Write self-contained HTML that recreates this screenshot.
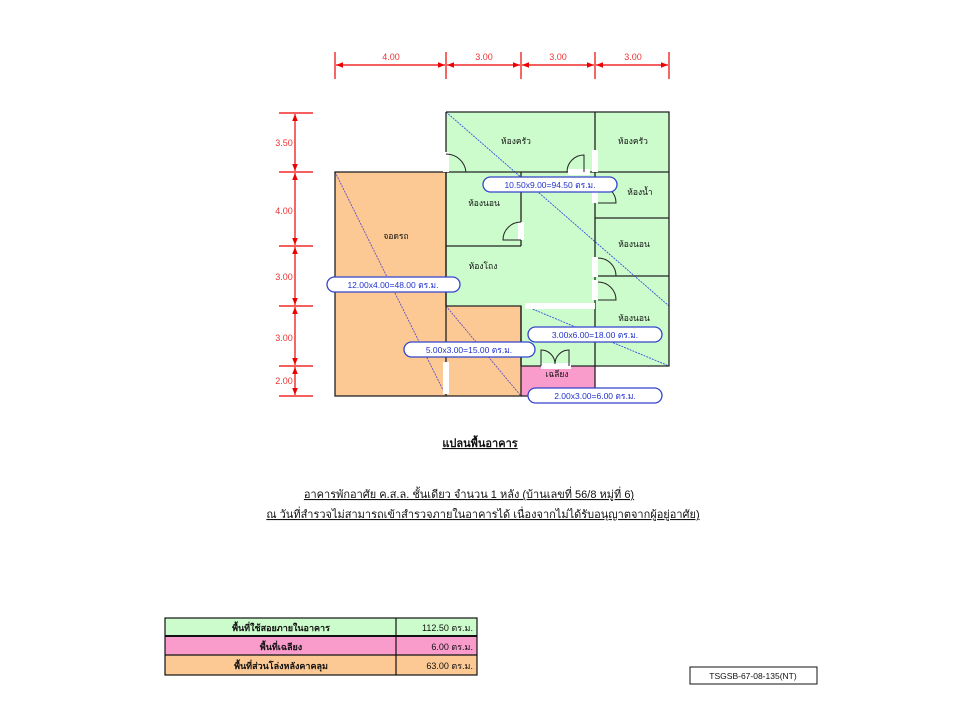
<!DOCTYPE html>
<html><head><meta charset="utf-8">
<style>
html,body{margin:0;padding:0;background:#fff;width:960px;height:720px;overflow:hidden}
svg{display:block}
text{font-family:"Liberation Sans","Noto Sans CJK SC",sans-serif}
</style></head><body>
<svg width="960" height="720" viewBox="0 0 960 720" xmlns="http://www.w3.org/2000/svg">
<defs>
<marker id="a" viewBox="0 0 10 10" refX="10" refY="5" markerWidth="6" markerHeight="6" orient="auto-start-reverse"><path d="M0,1 L10,5 L0,9z" fill="#e00"/></marker>
</defs>
<g stroke="#e00" stroke-width="1.2">
<line x1="335" y1="52" x2="335" y2="79"/><line x1="446" y1="52" x2="446" y2="79"/>
<line x1="521" y1="52" x2="521" y2="79"/><line x1="595" y1="52" x2="595" y2="79"/><line x1="669" y1="52" x2="669" y2="79"/>
<line x1="336" y1="65" x2="445" y2="65" marker-start="url(#a)" marker-end="url(#a)"/>
<line x1="447" y1="65" x2="520" y2="65" marker-start="url(#a)" marker-end="url(#a)"/>
<line x1="522" y1="65" x2="594" y2="65" marker-start="url(#a)" marker-end="url(#a)"/>
<line x1="596" y1="65" x2="668" y2="65" marker-start="url(#a)" marker-end="url(#a)"/>
<line x1="279" y1="113" x2="313" y2="113"/><line x1="279" y1="172" x2="313" y2="172"/>
<line x1="279" y1="246" x2="313" y2="246"/><line x1="279" y1="306" x2="313" y2="306"/>
<line x1="279" y1="366" x2="313" y2="366"/><line x1="279" y1="396" x2="313" y2="396"/>
<line x1="295" y1="114" x2="295" y2="171" marker-start="url(#a)" marker-end="url(#a)"/>
<line x1="295" y1="173" x2="295" y2="245" marker-start="url(#a)" marker-end="url(#a)"/>
<line x1="295" y1="247" x2="295" y2="305" marker-start="url(#a)" marker-end="url(#a)"/>
<line x1="295" y1="307" x2="295" y2="365" marker-start="url(#a)" marker-end="url(#a)"/>
<line x1="295" y1="367" x2="295" y2="395" marker-start="url(#a)" marker-end="url(#a)"/>
</g>
<g fill="#e33" font-size="9" text-anchor="middle">
<text x="391" y="60">4.00</text><text x="484" y="60">3.00</text><text x="558" y="60">3.00</text><text x="633" y="60">3.00</text>
<text x="284" y="146">3.50</text><text x="284" y="214">4.00</text><text x="284" y="280">3.00</text><text x="284" y="341">3.00</text><text x="284" y="384">2.00</text>
</g>
<path d="M446,112 H669 V366 H595 V366 H521 V306 H446z" fill="#ccfccc"/>
<rect x="335" y="172" width="111" height="224" fill="#fcc994"/>
<rect x="446" y="306" width="75" height="90" fill="#fcc994"/>
<rect x="521" y="366" width="74" height="30" fill="#f99ccc"/>
<g stroke-width="0.9" stroke-dasharray="2,1">
<line x1="446" y1="112" x2="669" y2="306" stroke="#3355dd"/>
<line x1="335" y1="172" x2="446" y2="396" stroke="#6650c0"/>
<line x1="446" y1="306" x2="521" y2="396" stroke="#6650c0"/>
<line x1="530" y1="308" x2="669" y2="366" stroke="#3355dd"/>
</g>
<g stroke="#222" stroke-width="1.3" fill="none">
<path d="M446,112 H669 V366 H595"/>
<rect x="335" y="172" width="111" height="224"/>
<path d="M446,112 V306 M446,396 H521 V306 H446"/>
<path d="M521,366 H595 V396 H521"/>
<path d="M446,172 H595 M595,172 H669 M446,246 H521 M521,172 V246 M595,218 H669 M595,276 H669 M595,112 V366 M521,306 V366"/>
</g>
<g fill="#fff">
<rect x="443" y="152" width="6" height="20"/>
<rect x="592" y="150" width="6" height="22"/>
<rect x="568" y="169" width="22" height="6"/>
<rect x="592" y="183" width="6" height="20"/>
<rect x="518" y="222" width="6" height="18"/>
<rect x="592" y="257" width="6" height="20"/>
<rect x="592" y="280" width="6" height="20"/>
<rect x="525" y="303" width="70" height="6"/>
<rect x="443" y="362" width="6" height="32"/>
<rect x="541" y="363" width="30" height="6"/>
</g>
<g stroke="#222" stroke-width="1" fill="none">
<path d="M446,154 A20,20 0 0 1 466,172"/><path d="M567,172 A17,17 0 0 1 584,155 V172"/>
<path d="M598,185 A18,18 0 0 1 616,203 H598"/><path d="M521,222 A18,18 0 0 0 503,240 H521"/>
<path d="M598,258 A18,18 0 0 1 616,276 H598"/><path d="M598,282 A18,18 0 0 1 616,300 H598"/>
<path d="M541,366 V350 A14,14 0 0 1 555,364 A14,14 0 0 1 569,350 V366"/>
</g>
<g font-size="8.5" fill="#111" text-anchor="middle">
<text x="516" y="144">ห้องครัว</text><text x="633" y="144">ห้องครัว</text>
<text x="640" y="195">ห้องน้ำ</text><text x="484" y="206">ห้องนอน</text>
<text x="634" y="247">ห้องนอน</text><text x="634" y="321">ห้องนอน</text>
<text x="483" y="269">ห้องโถง</text><text x="396" y="239">จอดรถ</text>
<text x="557" y="377">เฉลียง</text>
</g>
<g fill="#fff" stroke="#3344cc" stroke-width="1.3">
<rect x="483" y="177" width="134" height="15" rx="7.5"/>
<rect x="327" y="277" width="133" height="15" rx="7.5"/>
<rect x="404" y="342" width="131" height="15" rx="7.5"/>
<rect x="528" y="327" width="134" height="15" rx="7.5"/>
<rect x="528" y="388" width="134" height="15" rx="7.5"/>
</g>
<g fill="#2233cc" font-size="8.5" text-anchor="middle">
<text x="550" y="188">10.50x9.00=94.50 ตร.ม.</text>
<text x="393" y="288">12.00x4.00=48.00 ตร.ม.</text>
<text x="469" y="353">5.00x3.00=15.00 ตร.ม.</text>
<text x="595" y="338">3.00x6.00=18.00 ตร.ม.</text>
<text x="595" y="399">2.00x3.00=6.00 ตร.ม.</text>
</g>
<g font-size="11" fill="#111" text-anchor="middle" text-decoration="underline">
<text x="480" y="447" font-weight="bold">แปลนพื้นอาคาร</text>
<text x="469" y="498">อาคารพักอาศัย ค.ส.ล. ชั้นเดียว จำนวน 1 หลัง (บ้านเลขที่ 56/8 หมู่ที่ 6)</text>
<text x="483" y="518">ณ วันที่สำรวจไม่สามารถเข้าสำรวจภายในอาคารได้ เนื่องจากไม่ได้รับอนุญาตจากผู้อยู่อาศัย)</text>
</g>
<rect x="165" y="618" width="312" height="18" fill="#ccfccc"/>
<rect x="165" y="636" width="312" height="19" fill="#f99ccc"/>
<rect x="165" y="655" width="312" height="20" fill="#fcc994"/>
<g stroke="#111" stroke-width="1.2" fill="none">
<rect x="165" y="618" width="312" height="57"/>
<line x1="165" y1="636" x2="477" y2="636" stroke-width="2"/><line x1="165" y1="655" x2="477" y2="655"/>
<line x1="396" y1="618" x2="396" y2="675"/>
</g>
<g font-size="9" fill="#111">
<text x="281" y="631" text-anchor="middle" font-weight="bold">พื้นที่ใช้สอยภายในอาคาร</text>
<text x="281" y="650" text-anchor="middle" font-weight="bold">พื้นที่เฉลียง</text>
<text x="281" y="669" text-anchor="middle" font-weight="bold">พื้นที่ส่วนโล่งหลังคาคลุม</text>
<text x="473" y="631" text-anchor="end">112.50 ตร.ม.</text>
<text x="473" y="650" text-anchor="end">6.00 ตร.ม.</text>
<text x="473" y="669" text-anchor="end">63.00 ตร.ม.</text>
</g>
<rect x="690" y="667" width="127" height="17" fill="#fff" stroke="#111" stroke-width="1"/>
<text x="753" y="679" font-size="8.5" text-anchor="middle" fill="#111">TSGSB-67-08-135(NT)</text>
</svg>
</body></html>
